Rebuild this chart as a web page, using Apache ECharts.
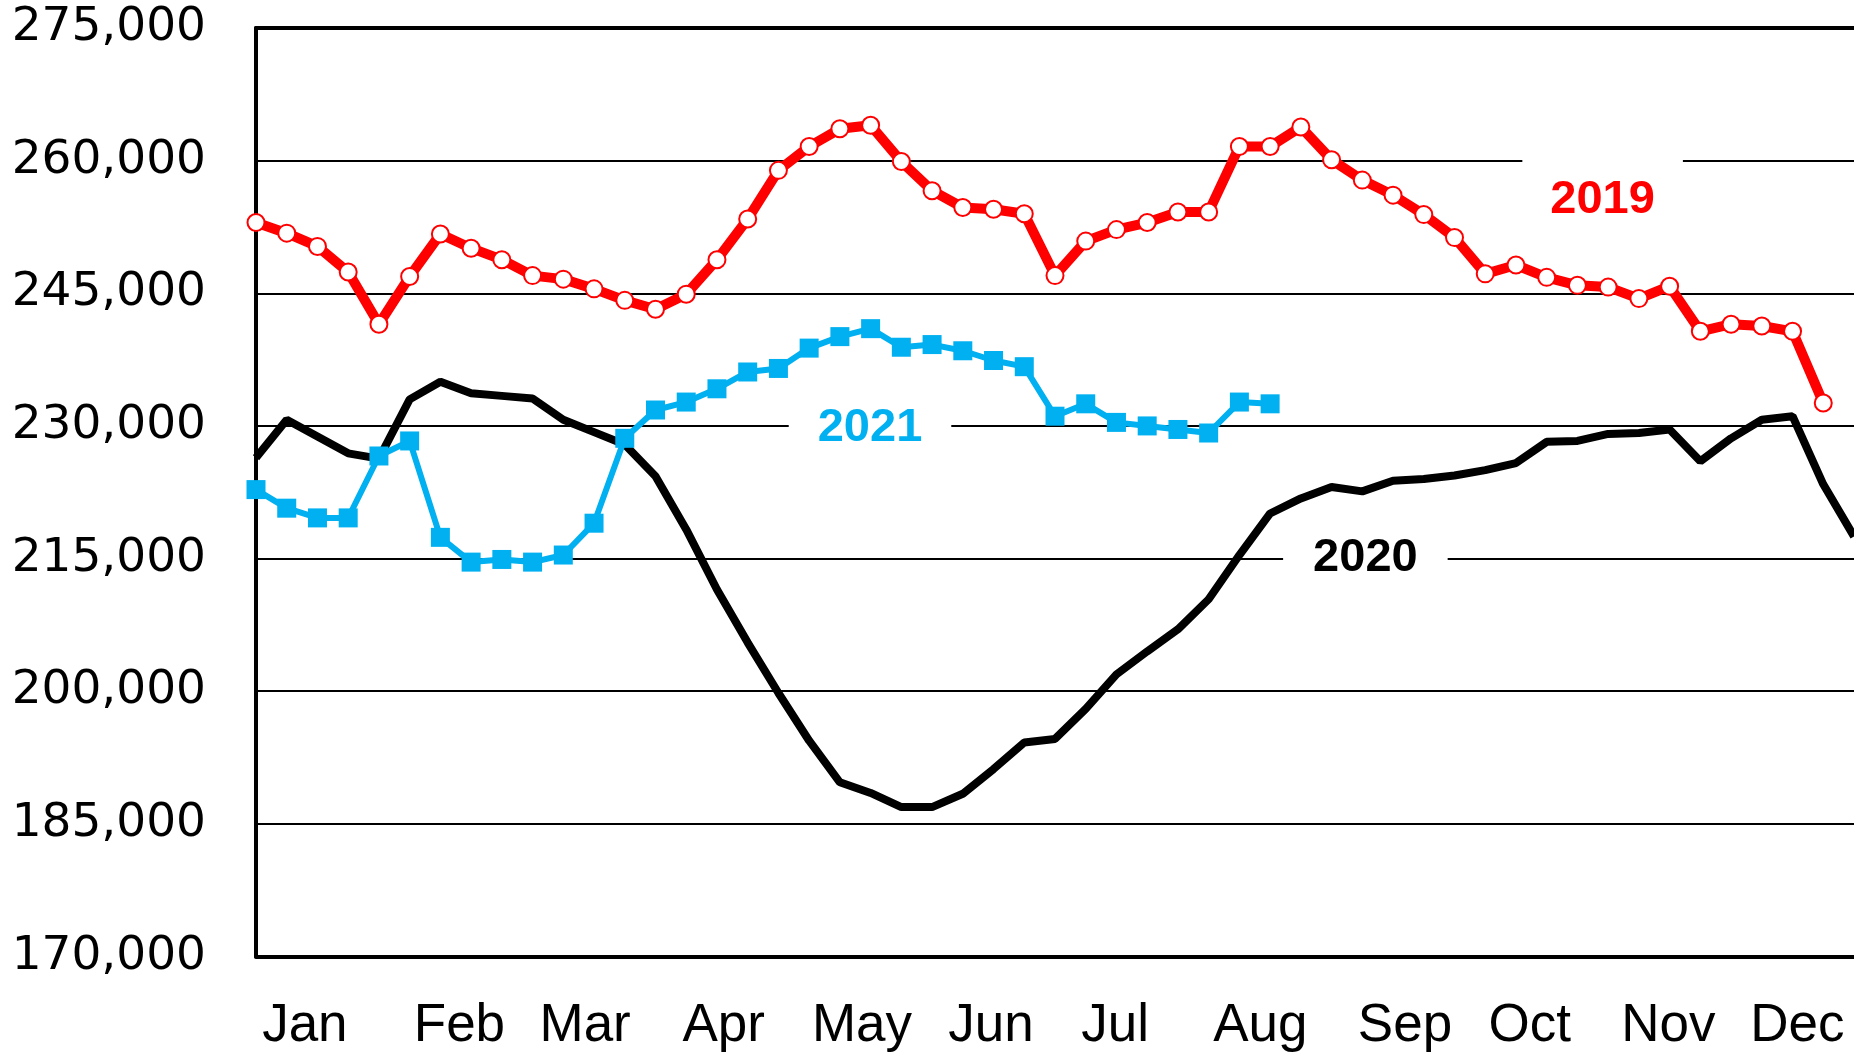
<!doctype html>
<html>
<head>
    <meta charset="UTF-8">
    <title>Weekly 2019-2021</title>
    <script src="https://cdn.jsdelivr.net/npm/echarts@6/dist/echarts.min.js"></script>
    <style>
        html, body { margin: 0; padding: 0; background: #fff; }
        #main { width: 1854px; height: 1053px; }
    </style>
</head>
<body>
<div id="main"></div>
<script>
    // weekly values, index = week of year
    var sales2019 = [
        253000, 251800, 250300, 247400, 241500, 246900, 251700, 250100, 248800, 247000,
        246600, 245500, 244200, 243200, 244900, 248800, 253400, 258900, 261600, 263600,
        264000, 259900, 256600, 254700, 254500, 254000, 247000, 250900, 252200, 253000,
        254200, 254200, 261600, 261600, 263800, 260100, 257800, 256100, 253900, 251300,
        247200, 248200, 246800, 245900, 245700, 244400, 245800, 240700, 241500, 241300,
        240700, 232600
    ];
    var sales2020 = [
        226400, 230700, 228800, 226900, 226300, 233000, 235000, 233700, 233400, 233100,
        230700, 229300, 227900, 224300, 218300, 211500, 205500, 199800, 194400, 189700,
        188500, 186900, 186900, 188400, 191200, 194200, 194600, 198000, 201900, 204500,
        207000, 210400, 215400, 220100, 221800, 223100, 222600, 223800, 224000, 224400,
        225000, 225800, 228200, 228300, 229100, 229200, 229600, 226000, 228600, 230700,
        231100, 223400, 217500
    ];
    var sales2021 = [
        222800, 220700, 219600, 219600, 226600, 228300, 217400, 214600, 214900, 214600,
        215400, 219000, 228600, 231800, 232700, 234200, 236100, 236500, 238800, 240100,
        241000, 238900, 239200, 238500, 237400, 236700, 231100, 232500, 230400, 230000,
        229600, 229200, 232700, 232500
    ];
    var monthLabels = ['Jan', 'Feb', 'Mar', 'Apr', 'May', 'Jun', 'Jul', 'Aug', 'Sep', 'Oct', 'Nov', 'Dec'];
    var monthWeeks = [1.59, 6.62, 10.71, 15.22, 19.72, 23.92, 27.96, 32.68, 37.39, 41.45, 45.96, 50.16];
    var yTicks = [170000, 185000, 200000, 215000, 230000, 245000, 260000, 275000];

    // where the year names sit (week, value)
    var yearTags = {
        '2019': [43.82, 255500],
        '2020': [36.1, 215100],
        '2021': [19.98, 229800]
    };

    function toPairs(arr) {
        return arr.map(function (v, i) { return [i, v]; });
    }

    function yearTag(name, color, pad) {
        return {
            symbol: 'rect',
            symbolSize: 1,
            silent: true,
            itemStyle: { color: 'rgba(0,0,0,0)' },
            label: {
                show: true,
                position: 'inside',
                color: color,
                fontFamily: 'Liberation Sans',
                fontWeight: 'bold',
                fontSize: 47,
                backgroundColor: '#fff',
                padding: pad
            },
            data: [{ name: name, coord: yearTags[name], value: name }]
        };
    }

    var myChart = echarts.init(document.getElementById('main'));
    var option = {
        animation: false,
        backgroundColor: '#fff',
        grid: {
            left: 256,
            right: -4,
            top: 28,
            bottom: 96.5
        },
        xAxis: [{
            type: 'value',
            min: 0,
            max: 52,
            position: 'bottom',
            axisLine: { onZero: false, lineStyle: { color: '#000', width: 4 } },
            axisTick: { show: false },
            splitLine: { show: false },
            axisLabel: {
                customValues: monthWeeks,
                margin: 43,
                color: '#000',
                fontFamily: 'Liberation Sans',
                fontSize: 53,
                formatter: function (value) {
                    var best = 0;
                    for (var i = 1; i < monthWeeks.length; i++) {
                        if (Math.abs(monthWeeks[i] - value) < Math.abs(monthWeeks[best] - value)) best = i;
                    }
                    return monthLabels[best];
                }
            }
        }, {
            type: 'value',
            min: 0,
            max: 52,
            position: 'top',
            axisLine: { onZero: false, lineStyle: { color: '#000', width: 4 } },
            axisTick: { show: false },
            axisLabel: { show: false },
            splitLine: { show: false }
        }],
        yAxis: {
            type: 'value',
            min: 170000,
            max: 275000,
            axisLine: { show: true, onZero: false, lineStyle: { color: '#000', width: 4 } },
            axisTick: { show: false, customValues: yTicks },
            splitLine: { show: true, lineStyle: { color: '#000', width: 2 } },
            axisLabel: {
                customValues: yTicks,
                margin: 50,
                color: '#000',
                fontFamily: 'DejaVu Sans',
                fontSize: 47,
                formatter: function (value) {
                    return value.toLocaleString('en-US');
                }
            }
        },
        series: [
            {
                name: '2020',
                type: 'line',
                data: toPairs(sales2020),
                showSymbol: false,
                symbol: 'none',
                lineStyle: { color: '#000', width: 8 },
                itemStyle: { color: '#000' },
                z: 2,
                markPoint: yearTag('2020', '#000', [4, 30])
            },
            {
                name: '2021',
                type: 'line',
                data: toPairs(sales2021),
                symbol: 'rect',
                symbolSize: 19,
                lineStyle: { color: '#00B0F0', width: 6 },
                itemStyle: { color: '#00B0F0' },
                z: 3,
                markPoint: yearTag('2021', '#00B0F0', [4, 29])
            },
            {
                name: '2019',
                type: 'line',
                data: toPairs(sales2019),
                symbol: 'circle',
                symbolSize: 17,
                lineStyle: { color: '#FF0000', width: 10 },
                itemStyle: { color: '#fff', borderColor: '#FF0000', borderWidth: 2 },
                z: 4,
                markPoint: yearTag('2019', '#FF0000', [20, 28])
            }
        ]
    };
    myChart.setOption(option);
</script>
</body>
</html>
